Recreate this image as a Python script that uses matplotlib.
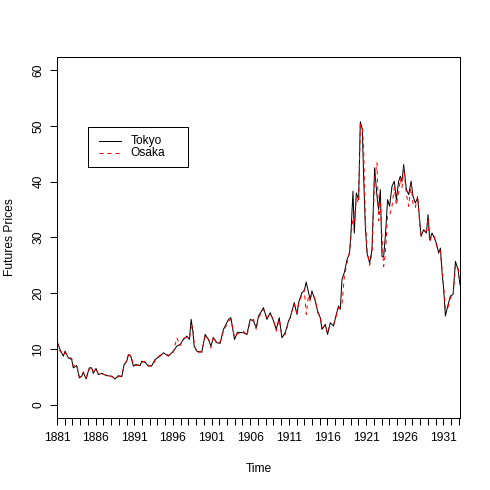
import numpy as np
import matplotlib
matplotlib.use('Agg')
import matplotlib.pyplot as plt
from matplotlib.patches import Rectangle
from matplotlib.lines import Line2D

plt.rcParams['font.family'] = ['Liberation Sans', 'DejaVu Sans']

# readings (year, price)
years = [
    1881.00, 1881.39, 1881.82, 1882.04, 1882.46, 1882.90, 1883.11, 1883.55, 1883.89, 1884.20,
    1884.41, 1884.76, 1885.18, 1885.49, 1885.70, 1886.05, 1886.35, 1886.79, 1887.44, 1888.09,
    1888.51, 1888.94, 1889.38, 1889.68, 1890.03, 1890.24, 1890.55, 1890.88, 1891.19, 1891.75,
    1891.97, 1892.40, 1892.83, 1893.27, 1893.69, 1894.34, 1894.77, 1895.42, 1896.06, 1896.50,
    1896.93, 1897.36, 1897.80, 1898.14, 1898.36, 1898.58, 1898.75, 1899.10, 1899.74, 1900.17,
    1900.60, 1900.91, 1901.25, 1901.69, 1902.11, 1902.54, 1903.19, 1903.50, 1903.97, 1904.36,
    1905.13, 1905.57, 1906.00, 1906.43, 1906.78, 1907.08, 1907.72, 1908.16, 1908.59, 1909.02,
    1909.37, 1909.76, 1910.11, 1910.53, 1910.96, 1911.18, 1911.70, 1912.05, 1912.26, 1912.69,
    1912.99, 1913.25, 1913.55, 1913.77, 1913.99, 1914.42, 1914.72, 1915.07, 1915.29, 1915.72,
    1916.01, 1916.36, 1916.79, 1917.14, 1917.44, 1917.66, 1917.88, 1918.18, 1918.53, 1918.86,
    1919.04, 1919.30, 1919.47, 1919.73, 1920.03, 1920.25, 1920.51, 1920.68, 1920.90, 1921.12,
    1921.46, 1921.76, 1922.10, 1922.41, 1922.62, 1922.84, 1923.06, 1923.27, 1923.49, 1923.78,
    1924.04, 1924.35, 1924.65, 1924.91, 1925.21, 1925.43, 1925.65, 1925.86, 1926.21, 1926.51,
    1926.82, 1927.07, 1927.37, 1927.67, 1927.93, 1928.11, 1928.45, 1928.80, 1929.02, 1929.23,
    1929.53, 1929.83, 1930.09, 1930.39, 1930.61, 1930.83, 1931.04, 1931.26, 1931.56, 1931.91,
    1932.26, 1932.56, 1932.90, 1933.15,
]

tokyo = [
    11.4, 9.9, 8.7, 9.6, 8.4, 8.1, 6.6, 7.0, 4.8, 5.1,
    5.8, 4.6, 6.6, 6.6, 5.6, 6.5, 5.4, 5.6, 5.2, 5.1,
    4.6, 5.2, 5.0, 7.2, 7.8, 9.0, 8.7, 6.9, 7.2, 7.0,
    7.8, 7.6, 6.9, 7.0, 8.1, 8.7, 9.3, 8.7, 9.6, 10.5,
    10.8, 11.7, 12.3, 11.7, 15.3, 13.2, 10.5, 9.6, 9.4, 12.6,
    11.7, 10.5, 12.0, 11.1, 11.0, 13.5, 15.3, 15.6, 11.7, 13.0,
    12.9, 12.6, 15.3, 15.0, 13.8, 15.9, 17.4, 15.3, 16.5, 15.0,
    13.5, 15.6, 12.0, 12.9, 15.0, 15.6, 18.3, 16.2, 18.3, 20.1,
    20.4, 22.0, 20.1, 18.9, 20.4, 18.6, 16.8, 15.6, 13.5, 14.4,
    12.6, 14.7, 14.1, 16.2, 17.7, 17.1, 22.5, 23.7, 26.0, 27.2,
    30.8, 38.3, 30.8, 38.0, 36.8, 50.8, 49.4, 41.0, 32.0, 27.2,
    25.4, 27.8, 42.5, 37.4, 35.0, 38.6, 26.6, 26.6, 30.2, 36.8,
    35.6, 39.2, 40.1, 36.8, 40.1, 41.0, 40.1, 43.1, 38.6, 37.7,
    40.1, 37.4, 36.2, 37.1, 33.2, 30.2, 31.4, 30.8, 34.1, 29.6,
    30.8, 29.9, 29.0, 27.2, 28.1, 23.7, 20.7, 15.9, 17.7, 19.5,
    19.8, 25.7, 24.2, 21.5,
]

osaka = [
    11.2, 9.6, 8.9, 9.3, 8.6, 8.3, 6.9, 7.2, 5.0, 5.0,
    5.9, 4.8, 6.4, 6.8, 5.8, 6.3, 5.6, 5.5, 5.3, 5.0,
    4.8, 5.0, 5.2, 6.8, 8.0, 8.8, 8.9, 7.1, 7.0, 7.2,
    7.6, 7.8, 7.1, 6.8, 7.9, 8.9, 9.1, 8.9, 9.4, 12.0,
    10.6, 11.9, 12.1, 11.9, 13.8, 14.0, 11.0, 9.2, 9.7, 12.2,
    12.0, 10.2, 12.3, 10.8, 11.3, 13.2, 15.0, 15.3, 12.1, 12.7,
    13.2, 12.3, 15.0, 15.3, 13.5, 15.6, 17.1, 15.6, 16.2, 15.3,
    13.2, 15.3, 12.3, 12.6, 14.7, 15.9, 18.0, 16.5, 18.0, 19.8,
    20.6, 16.2, 19.6, 18.6, 20.1, 18.9, 16.5, 15.9, 13.8, 14.1,
    12.9, 14.4, 14.4, 15.9, 17.4, 17.4, 18.0, 23.0, 25.4, 27.5,
    30.2, 33.5, 33.0, 37.0, 36.2, 50.3, 49.8, 46.0, 33.0, 27.8,
    25.0, 27.2, 40.5, 43.4, 33.0, 36.0, 30.0, 24.8, 27.0, 34.0,
    34.0, 35.6, 39.0, 35.8, 38.0, 40.5, 39.0, 42.5, 37.8, 35.6,
    39.5, 36.0, 35.4, 37.5, 32.5, 30.5, 31.0, 31.2, 33.5, 29.2,
    30.4, 30.2, 28.6, 27.6, 27.6, 24.2, 21.2, 17.1, 17.2, 19.2,
    19.5, 25.0, 24.6, 21.8,
]

series_names = ['Tokyo', 'Osaka']
major_years = list(range(1881, 1932, 5))
y_ticks = [0, 10, 20, 30, 40, 50, 60]

LW = 0.72  # one R pixel at 100 dpi
FS = 8.64
DASH = (0, (4, 4))
W = 490


def fx(px):
    return px / W


def fy(py):
    return 1 - py / W


fig = plt.figure(figsize=(4.9, 4.9), dpi=100)
fig.patch.set_facecolor('white')
ax = fig.add_axes([57 / W, 72 / W, 403 / W, 361 / W])

ax.plot(years, tokyo, color='black', lw=LW)
ax.plot(years, osaka, color='red', lw=LW, ls=DASH)

ax.set_xlim(1881, 1933.15)
ax.set_ylim(-2.4, 62.4)

ax.set_xticks(range(1881, 1934))
ax.set_xticklabels([str(y) if y in major_years else '' for y in range(1881, 1934)])
ax.set_yticks(y_ticks)
ax.set_yticklabels([str(v) for v in y_ticks], rotation=90, va='center')
ax.tick_params(direction='out', length=5, width=LW, labelsize=FS, pad=5)
ax.tick_params(axis='y', pad=4)
for sp in ax.spines.values():
    sp.set_linewidth(LW)

ax.set_xlabel('Time', fontsize=FS, labelpad=14)
ax.set_ylabel('Futures Prices', fontsize=FS, labelpad=12)

# R-style legend box
fig.add_artist(Rectangle((fx(88.3), fy(166.7)), (188.3 - 88.3) / W, (166.7 - 126.7) / W,
                         transform=fig.transFigure, fill=False, edgecolor='black', lw=LW))
for name, col, ls, py in [(series_names[0], 'black', '-', 141.0),
                          (series_names[1], 'red', DASH, 153.3)]:
    fig.add_artist(Line2D([fx(99), fx(120.7)], [fy(py), fy(py)], transform=fig.transFigure,
                          color=col, lw=LW, ls=ls))
    fig.text(fx(130.7), fy(py), name, fontsize=FS, va='center', ha='left')

plt.savefig('out.png', dpi=100)
plt.close()
